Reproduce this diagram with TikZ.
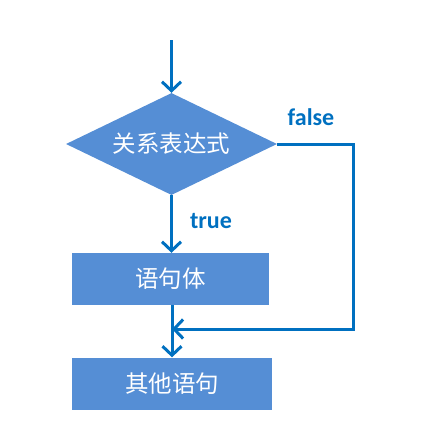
\documentclass[tikz,border=0pt]{standalone}
\usepackage{fontspec}
\newfontfamily\cjk{Noto Sans CJK SC}
\newfontfamily\lab{Carlito}
\usetikzlibrary{arrows.meta,shapes.geometric}
\definecolor{boxfill}{HTML}{558ED5}
\definecolor{linec}{HTML}{0070C0}
\tikzset{
  x=1pt,y=-1pt,
  flow/.style={draw=linec,line width=3pt,-{Straight Barb[length=9pt,width=19pt]}},
  plain/.style={draw=linec,line width=3pt},
  box/.style={fill=boxfill,minimum width=197pt,minimum height=52pt,inner sep=0pt,text=white,font=\cjk\fontsize{23.5}{28}\selectfont},
  dia/.style={diamond,fill=boxfill,minimum width=211pt,minimum height=102pt,inner sep=0pt,aspect=2.07,text=white,font=\cjk\fontsize{23.5}{28}\selectfont},
  lbl/.style={text=linec,font=\lab\bfseries\fontsize{24}{28}\selectfont,inner sep=0pt}
}
\begin{document}
\begin{tikzpicture}
\useasboundingbox (0,0) rectangle (435,448);
\coordinate (start) at (171.5,40);
\node[dia] (cond) at (171.5,144) {\hbox to 100pt{\hss 关系表达式\hss}};
\node[box] (body) at (170.5,279) {语句体};
\node[box,minimum width=200pt] (other) at (172,383.5) {其他语句};
\coordinate (corner1) at (353,144);
\coordinate (corner2) at (353,329);
\coordinate (join) at (172,329);
\draw[flow] (start) -- (cond.north);
\draw[flow] (cond.south) -- (body.north -| cond.south);
\draw[flow] (body.south -| join) -- (other.north -| join);
\draw[plain] (cond.east) -- (corner1) -- (corner2) -- (join);
\draw[flow] (corner2) -- (join);
\node[lbl] (flab) at (311,117) {false};
\node[lbl] (tlab) at (211,221) {true};
\end{tikzpicture}
\end{document}
